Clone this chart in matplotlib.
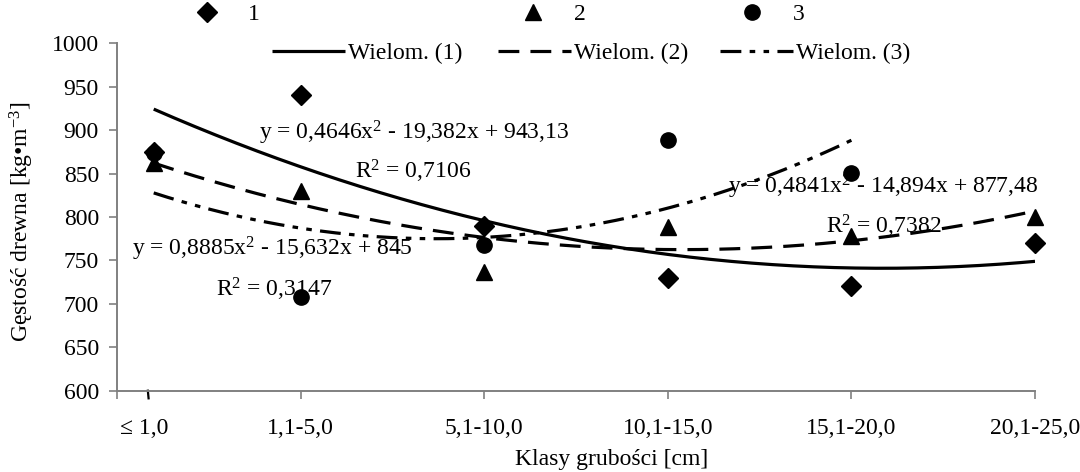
import numpy as np
import matplotlib
matplotlib.use("Agg")
import matplotlib.pyplot as plt

plt.rcParams['font.family'] = ['Liberation Serif', 'DejaVu Serif']
plt.rcParams['mathtext.fontset'] = 'custom'
plt.rcParams['mathtext.rm'] = 'Liberation Serif'
plt.rcParams['mathtext.it'] = 'Liberation Serif:italic'
plt.rcParams['mathtext.bf'] = 'Liberation Serif:bold'
plt.rcParams['lines.scale_dashes'] = False

# ---- data ----
class_x = [1, 5, 10, 15, 20, 25]
class_labels = ['\u2264 1,0', '1,1-5,0', '5,1-10,0', '10,1-15,0', '15,1-20,0', '20,1-25,0']
series1 = [875, 940, 790, 730, 720, 770]
series2 = [862, 830, 737, 788, 778, 800]
series3 = [874, 708, 768, 889, 851]
series_names = ['1', '2', '3']
trend_names = ['Wielom. (1)', 'Wielom. (2)', 'Wielom. (3)']
eq_texts = [r'y = 0,4646x$^{2}$ - 19,382x + 943,13',
            r'y = 0,4841x$^{2}$ - 14,894x + 877,48',
            r'y = 0,8885x$^{2}$ - 15,632x + 845']
r2_texts = [r'R$^{2}$ = 0,7106', r'R$^{2}$ = 0,7382', r'R$^{2}$ = 0,3147']
y_ticks = [600, 650, 700, 750, 800, 850, 900, 950, 1000]

W, H = 1080, 472
fig = plt.figure(figsize=(W / 100, H / 100), dpi=100)
ax = fig.add_axes([117 / W, 1 - 390.7 / H, (1035 - 117) / W, (390.7 - 43.3) / H])

FS = 17
grey = '#808080'
lw_trend = 2.3
dash2 = (15, 8)
dash3 = (15, 6, 4, 6, 4, 6)

xs = [np.array(class_x, float), np.array(class_x, float), np.array(class_x[:len(series3)], float)]
ys = [np.array(series1, float), np.array(series2, float), np.array(series3, float)]
markers = ['D', '^', 'o']
msizes = [10, 12, 11]
styles = [dict(linestyle='-'), dict(dashes=dash2), dict(dashes=dash3)]

trend_handles = []
marker_handles = []
for i in range(3):
    coef = np.polyfit(xs[i], ys[i], 2)
    xx = np.linspace(xs[i][0], xs[i][-1], 300)
    ln, = ax.plot(xx, np.polyval(coef, xx), color='black', lw=lw_trend, zorder=3,
                  solid_capstyle='butt', dash_capstyle='butt', **styles[i])
    trend_handles.append(ln)
    mk, = ax.plot(xs[i], ys[i], linestyle='none', marker=markers[i], ms=msizes[i],
                  color='black', zorder=5, clip_on=False)
    marker_handles.append(mk)

# equation labels (data coordinates)
eq_pos = [(8.1, 897), (20.87, 835), (4.23, 763)]
r2_pos = [(8.05, 853), (20.89, 789), (4.28, 717)]
for i in range(3):
    ax.text(*eq_pos[i], eq_texts[i], ha='center', va='center', fontsize=FS, zorder=2)
    ax.text(*r2_pos[i], r2_texts[i], ha='center', va='center', fontsize=FS, zorder=2)

ax.set_xlim(0, 25)
ax.set_ylim(600, 1000)
ax.set_yticks(y_ticks)
ax.set_yticklabels([str(v) for v in y_ticks], fontsize=FS)
ax.set_xticks([0] + class_x[1:])
ax.set_xticklabels([''] + class_labels[1:], fontsize=FS)
ax.set_xticks([0.73], minor=True)
ax.set_xticklabels([class_labels[0]], minor=True, fontsize=FS)
ax.plot([0.84, 0.86], [0, -0.022], transform=ax.get_xaxis_transform(),
        color='black', lw=1.6, clip_on=False)

for s in ['top', 'right']:
    ax.spines[s].set_visible(False)
for s in ['left', 'bottom']:
    ax.spines[s].set_color(grey)
    ax.spines[s].set_linewidth(1.4)
ax.tick_params(axis='both', which='major', direction='out', color=grey, width=1.2, length=6)
ax.tick_params(axis='y', pad=7)
ax.tick_params(axis='x', which='major', pad=14)
ax.tick_params(axis='x', which='minor', length=0, pad=14 + 6)

fig.text(612 / W, 1 - 459 / H, 'Klasy grubości [cm]', ha='center', va='center', fontsize=FS)
fig.text(22 / W, 1 - 222 / H, r'Gęstość drewna [kg•m$^{-3}$]', ha='center', va='center',
         rotation=90, fontsize=FS)

# legend entries (placed individually)
def key(handle, label, left_px, y_px, hl, pad):
    return fig.legend(handles=[handle], labels=[label], loc='center left',
                      bbox_to_anchor=(left_px / W, 1 - y_px / H), frameon=False,
                      borderaxespad=0, borderpad=0, handlelength=hl,
                      handletextpad=pad, fontsize=FS, numpoints=1)

row1, row2 = 14, 53
key(marker_handles[0], series_names[0], 189, row1, 1.5, 1.0)
key(marker_handles[1], series_names[1], 515, row1, 1.5, 1.0)
key(marker_handles[2], series_names[2], 734, row1, 1.5, 1.0)
key(trend_handles[0], trend_names[0], 272, row2, 3.1, 0.13)
key(trend_handles[1], trend_names[1], 498, row2, 3.1, 0.13)
key(trend_handles[2], trend_names[2], 720, row2, 3.1, 0.13)

fig.savefig('out.png', dpi=100)
